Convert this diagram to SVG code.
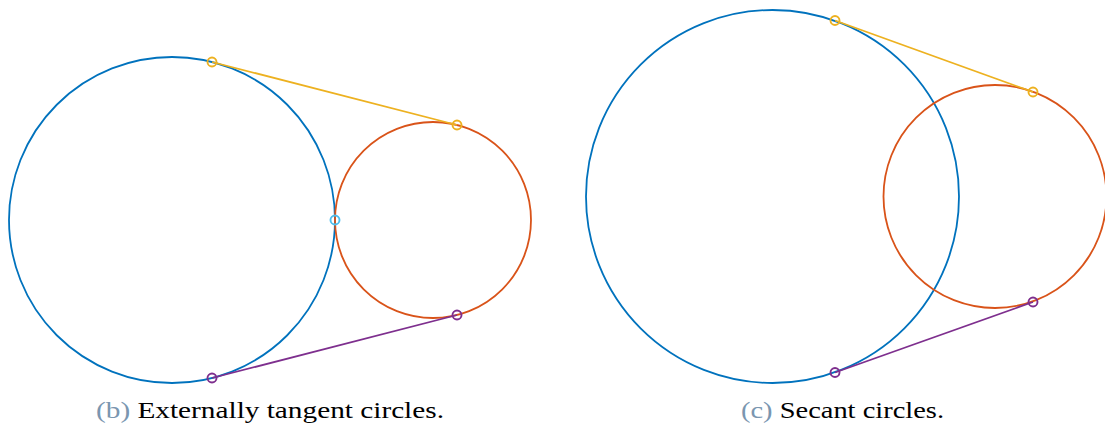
<svg xmlns="http://www.w3.org/2000/svg" width="1105" height="427" viewBox="0 0 1105 427">
<style>
.c{fill:none;stroke-width:1.8}
.blue{stroke:#0072BD}
.orange{stroke:#D95319}
.yel{stroke:#EDB120}
.pur{stroke:#7E2F8E}
.m{fill:none;stroke-width:1.9}
.cap{font-family:"Liberation Serif","Times New Roman",serif;font-size:23px;fill:#000}
.lab{fill:#7A96B0}
</style>
<rect width="1105" height="427" fill="#fff"/>
<g id="fig-b">
<g id="b-big"><circle class="c blue" cx="172" cy="220" r="163"/></g>
<g id="b-small"><circle class="c orange" cx="433" cy="220" r="98"/></g>
<g id="b-connectors">
<line class="c yel" x1="212" y1="62" x2="457" y2="125"/>
<line class="c pur" x1="212" y1="378" x2="457" y2="315"/>
</g>
<g id="b-markers">
<circle class="m yel" cx="212" cy="62" r="4.5"/>
<circle class="m yel" cx="457" cy="125" r="4.5"/>
<circle class="m pur" cx="212" cy="378" r="4.5"/>
<circle class="m pur" cx="457" cy="315" r="4.5"/>
<circle class="m" stroke="#4DBEEE" stroke-width="2.6" cx="335" cy="220" r="4.5"/>
</g>
<text class="cap" x="270" y="418" text-anchor="middle" textLength="348" lengthAdjust="spacingAndGlyphs"><tspan class="lab">(b)</tspan> Externally tangent circles.</text>
</g>
<g id="fig-c">
<g id="c-big"><circle class="c blue" cx="772.5" cy="196.5" r="186.5"/></g>
<g id="c-small"><circle class="c orange" cx="995" cy="196.5" r="111.5"/></g>
<g id="c-connectors">
<line class="c yel" x1="835" y1="20.5" x2="1033" y2="92"/>
<line class="c pur" x1="835" y1="372.5" x2="1033" y2="302"/>
</g>
<g id="c-markers">
<circle class="m yel" cx="835" cy="20.5" r="4.5"/>
<circle class="m yel" cx="1033" cy="92" r="4.5"/>
<circle class="m pur" cx="835" cy="372.5" r="4.5"/>
<circle class="m pur" cx="1033" cy="302" r="4.5"/>
</g>
<text class="cap" x="842.5" y="418" text-anchor="middle" textLength="203" lengthAdjust="spacingAndGlyphs"><tspan class="lab">(c)</tspan> Secant circles.</text>
</g>
</svg>
